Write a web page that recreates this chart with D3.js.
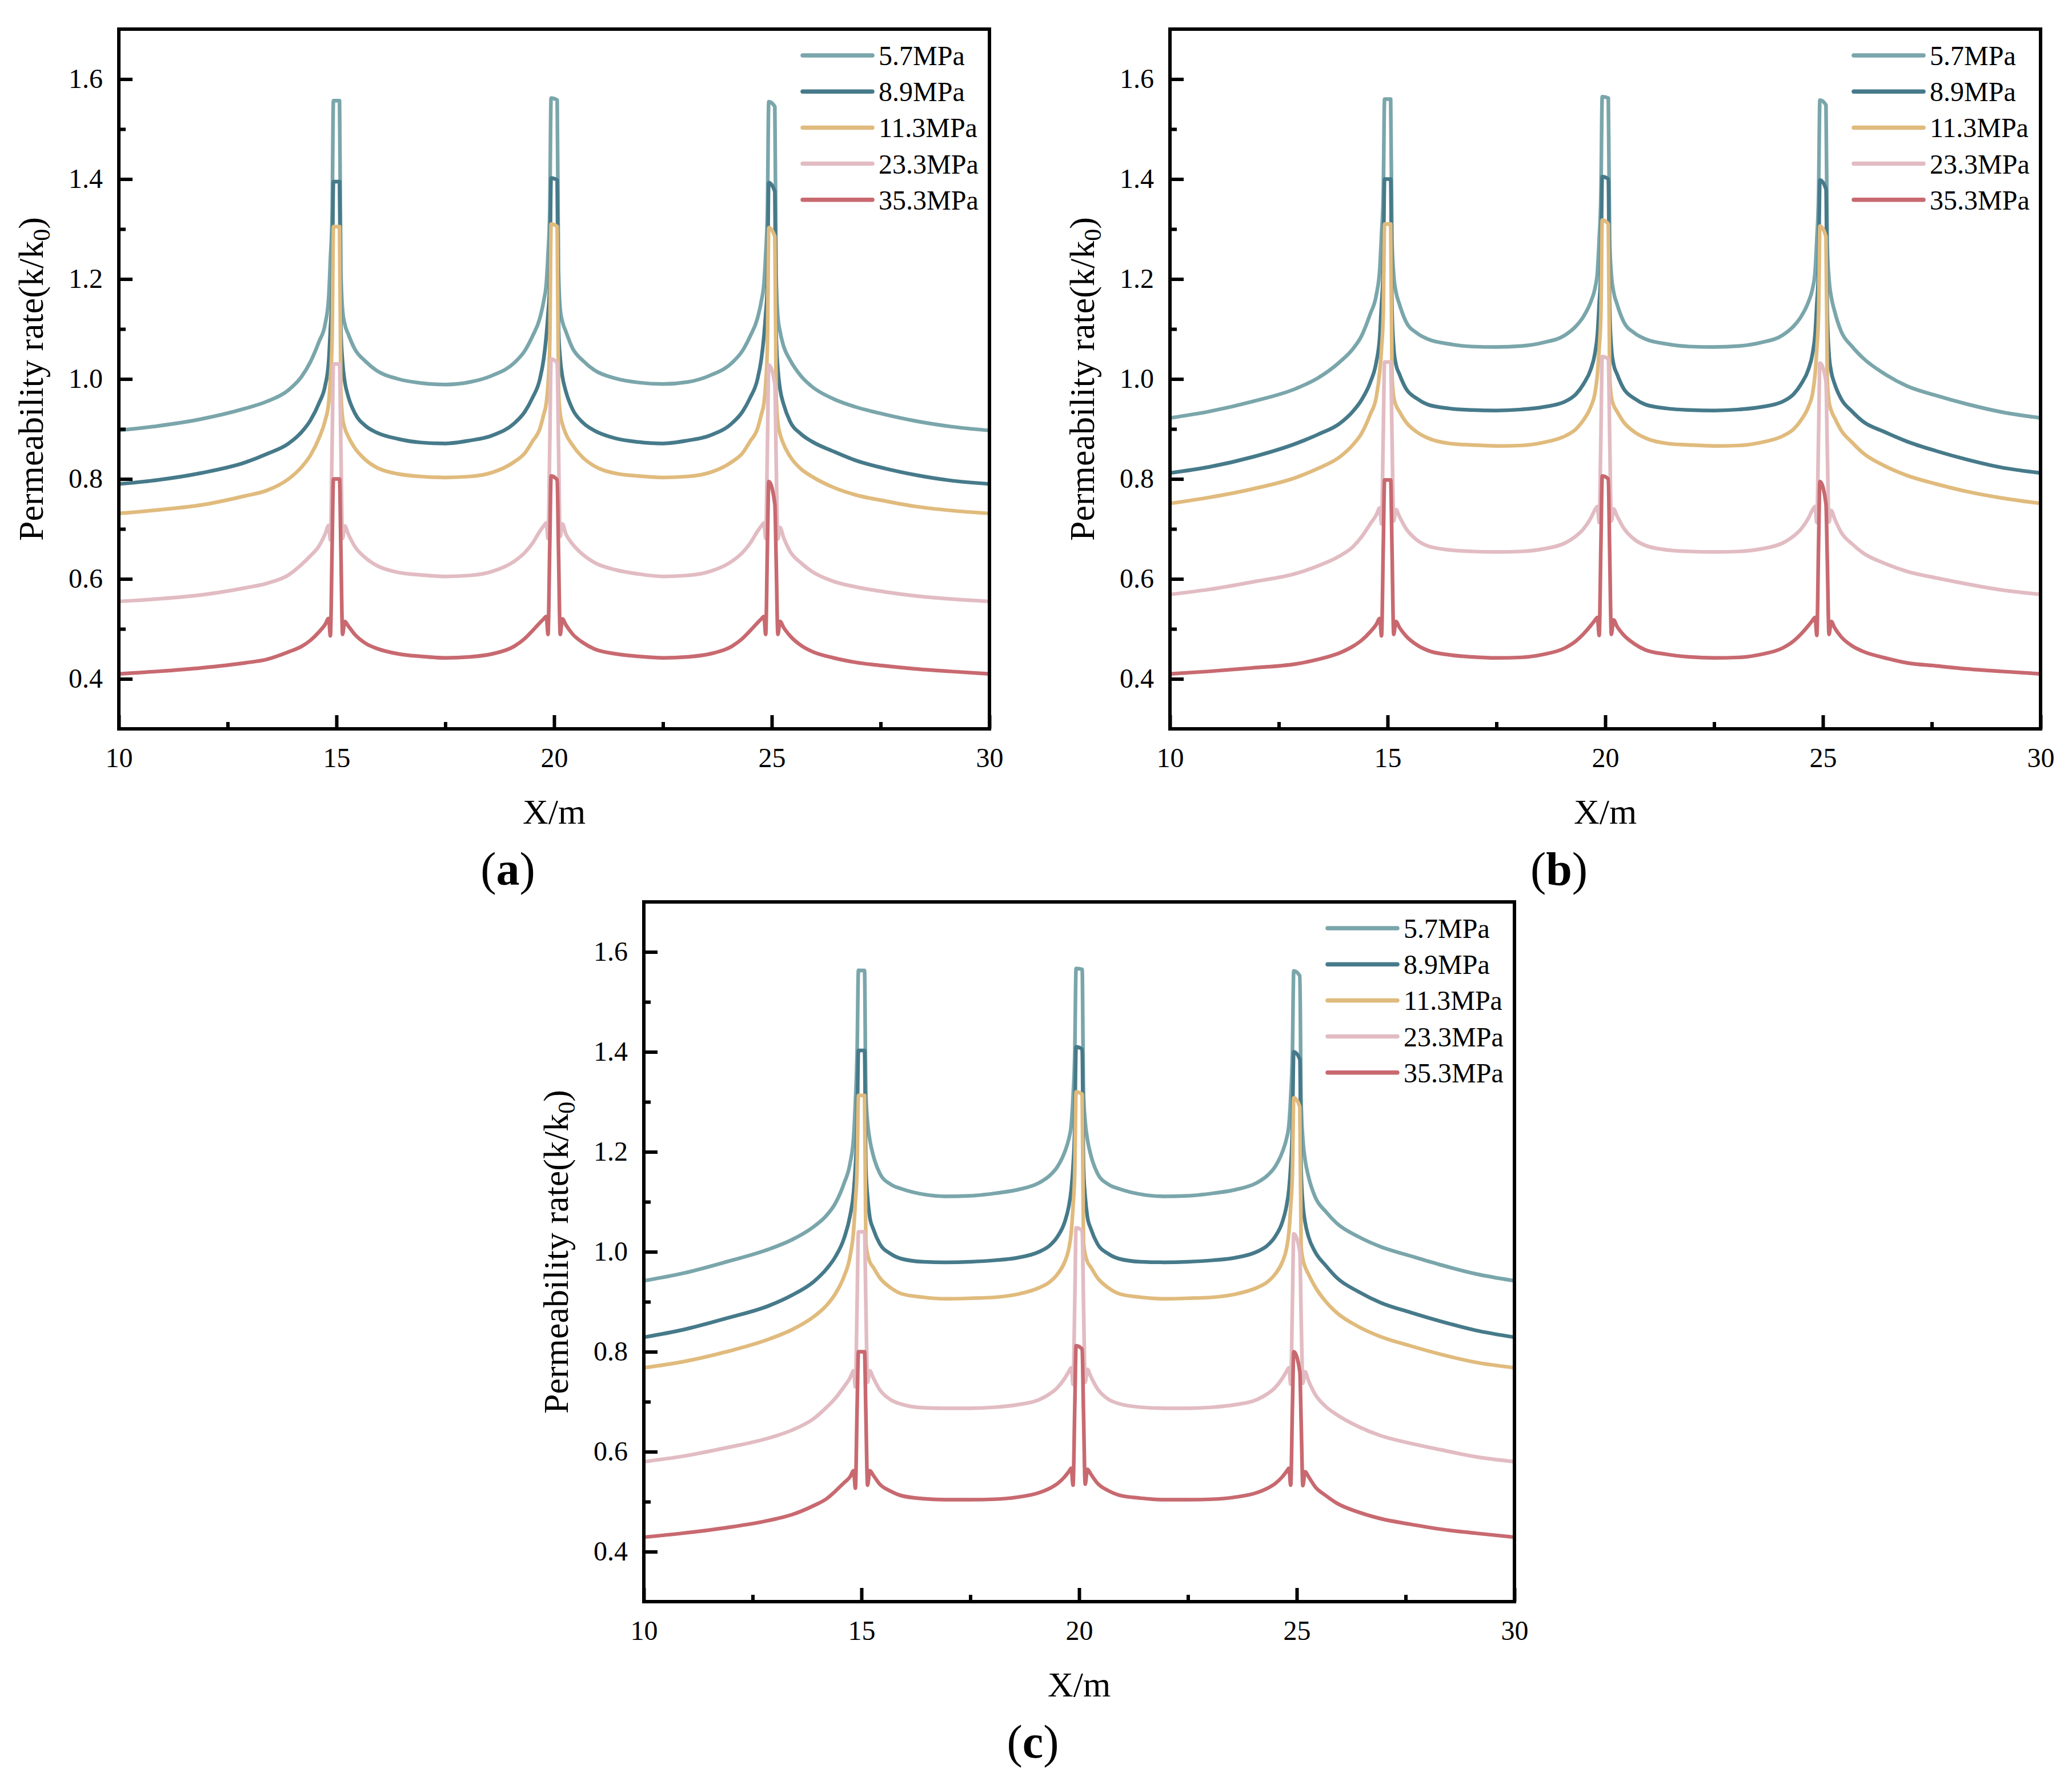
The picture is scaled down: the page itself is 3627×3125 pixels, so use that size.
<!DOCTYPE html>
<html>
<head>
<meta charset="utf-8">
<script src="https://cdn.jsdelivr.net/npm/d3@7"></script>
<style>
  html, body { margin: 0; padding: 0; background: #fff; }
  svg { display: block; }
</style>
</head>
<body>
<svg id="chart" width="3627" height="3125"></svg>
<script>
// x positions (m) shared by every curve, denser round the fractures at 15, 20 and 25 m
const xs = [10,10.9,11.9,12.9,13.4,13.9,14.2,14.4,14.6,14.74,14.82,14.86,14.9,14.93,
  15.07,15.1,15.14,15.19,15.27,15.42,15.67,15.92,16.42,16.93,17.5,
  18.07,18.58,19.08,19.33,19.5,19.67,19.76,19.82,19.86,19.9,19.93,
  20.07,20.1,20.14,20.19,20.27,20.42,20.67,20.92,21.42,21.93,22.5,
  23.07,23.58,24.08,24.33,24.5,24.67,24.76,24.82,24.86,24.9,24.93,
  25.07,25.1,25.14,25.19,25.27,25.42,25.67,25.92,26.42,26.93,27.6,28.3,29.1,30];

const seriesNames = ["5.7MPa", "8.9MPa", "11.3MPa", "23.3MPa", "35.3MPa"];
const seriesColors = ["#7aa6ab", "#467a8a", "#e0bb7d", "#e2bcc3", "#c86970"];

const xTicks = [10, 15, 20, 25, 30];
const xMinor = [12.5, 17.5, 22.5, 27.5];
const yTicks = [0.4, 0.6, 0.8, 1.0, 1.2, 1.4, 1.6];
const yMinor = [0.5, 0.7, 0.9, 1.1, 1.3, 1.5];

// panel (a)
const a57 = [0.897,0.906,0.920,0.941,0.955,0.978,1.005,1.034,1.075,1.110,1.162,1.24,1.33,1.557,
  1.557,1.22,1.138,1.11,1.09,1.06,1.035,1.017,1.0,0.992,0.989,
  0.994,1.007,1.032,1.057,1.085,1.121,1.156,1.191,1.25,1.34,1.562,
  1.558,1.22,1.14,1.115,1.095,1.062,1.036,1.018,1.001,0.993,0.99,
  0.994,1.007,1.032,1.057,1.085,1.121,1.156,1.191,1.25,1.34,1.555,
  1.545,1.21,1.125,1.095,1.066,1.038,1.006,0.985,0.96,0.944,0.929,0.916,0.905,0.897];
const a89 = [0.79,0.798,0.812,0.833,0.850,0.871,0.894,0.917,0.952,0.987,1.034,1.10,1.18,1.395,
  1.395,1.10,1.034,0.995,0.965,0.932,0.906,0.893,0.88,0.873,0.871,
  0.877,0.887,0.911,0.935,0.962,0.999,1.04,1.086,1.13,1.19,1.402,
  1.398,1.10,1.04,1.005,0.975,0.94,0.912,0.897,0.881,0.874,0.871,
  0.877,0.887,0.911,0.935,0.962,0.999,1.04,1.086,1.13,1.19,1.393,
  1.375,1.09,1.02,0.98,0.95,0.915,0.89,0.875,0.855,0.837,0.821,0.808,0.797,0.79];
const a113 = [0.731,0.738,0.748,0.766,0.777,0.80,0.824,0.847,0.882,0.917,0.952,1.0,1.08,1.305,
  1.305,0.98,0.922,0.902,0.885,0.862,0.838,0.823,0.81,0.805,0.803,
  0.805,0.813,0.834,0.852,0.875,0.90,0.929,0.952,0.99,1.07,1.31,
  1.305,0.98,0.93,0.91,0.89,0.868,0.842,0.826,0.811,0.806,0.803,
  0.805,0.813,0.834,0.852,0.875,0.90,0.929,0.952,0.99,1.07,1.303,
  1.285,0.97,0.912,0.89,0.87,0.845,0.82,0.805,0.783,0.768,0.756,0.745,0.737,0.731];
const a233 = [0.555,0.560,0.568,0.582,0.591,0.608,0.629,0.646,0.666,0.690,0.707,0.678,0.87,1.03,
  1.03,0.87,0.681,0.706,0.69,0.665,0.642,0.627,0.613,0.608,0.605,
  0.607,0.615,0.635,0.653,0.671,0.695,0.706,0.712,0.681,0.87,1.04,
  1.032,0.87,0.685,0.71,0.69,0.67,0.648,0.633,0.618,0.61,0.605,
  0.607,0.615,0.635,0.653,0.671,0.695,0.706,0.712,0.681,0.87,1.028,
  0.99,0.84,0.68,0.703,0.683,0.655,0.632,0.615,0.595,0.584,0.574,0.566,0.56,0.555];
const a353 = [0.41,0.415,0.422,0.432,0.439,0.454,0.465,0.477,0.494,0.509,0.521,0.486,0.665,0.80,
  0.80,0.665,0.489,0.515,0.506,0.489,0.471,0.461,0.45,0.445,0.442,
  0.444,0.45,0.465,0.481,0.496,0.512,0.52,0.525,0.489,0.67,0.806,
  0.798,0.66,0.489,0.52,0.508,0.49,0.472,0.46,0.45,0.445,0.442,
  0.444,0.45,0.465,0.481,0.496,0.512,0.52,0.525,0.489,0.67,0.795,
  0.75,0.64,0.489,0.515,0.503,0.486,0.467,0.455,0.442,0.433,0.426,0.42,0.415,0.41];

// panel (b)
const b57 = [0.922,0.935,0.955,0.981,1.002,1.034,1.06,1.086,1.13,1.168,1.22,1.29,1.37,1.56,
  1.56,1.28,1.209,1.175,1.15,1.115,1.092,1.08,1.07,1.065,1.064,
  1.066,1.073,1.088,1.106,1.125,1.155,1.18,1.215,1.28,1.37,1.565,
  1.562,1.28,1.209,1.175,1.15,1.115,1.092,1.08,1.07,1.065,1.064,
  1.066,1.073,1.088,1.106,1.125,1.155,1.18,1.215,1.28,1.37,1.558,
  1.548,1.27,1.2,1.165,1.135,1.095,1.065,1.042,1.01,0.986,0.967,0.95,0.934,0.922];
const b89 = [0.812,0.824,0.844,0.871,0.889,0.911,0.935,0.958,0.993,1.034,1.086,1.15,1.22,1.40,
  1.40,1.14,1.063,1.03,1.01,0.981,0.961,0.949,0.941,0.938,0.937,
  0.939,0.944,0.955,0.97,0.99,1.02,1.05,1.09,1.15,1.22,1.405,
  1.40,1.14,1.063,1.03,1.01,0.981,0.961,0.949,0.941,0.938,0.937,
  0.939,0.944,0.955,0.97,0.99,1.02,1.05,1.09,1.15,1.22,1.398,
  1.38,1.13,1.05,1.015,0.99,0.96,0.935,0.915,0.894,0.875,0.856,0.839,0.823,0.812];
const b113 = [0.751,0.763,0.78,0.803,0.821,0.844,0.868,0.891,0.929,0.964,1.016,1.06,1.13,1.31,
  1.31,1.01,0.964,0.948,0.935,0.914,0.894,0.882,0.871,0.868,0.866,
  0.867,0.873,0.886,0.9,0.918,0.945,0.97,1.01,1.06,1.13,1.318,
  1.31,1.01,0.964,0.948,0.935,0.914,0.894,0.882,0.871,0.868,0.866,
  0.867,0.873,0.886,0.9,0.918,0.945,0.97,1.01,1.06,1.13,1.306,
  1.285,1.0,0.955,0.937,0.922,0.897,0.873,0.852,0.826,0.807,0.79,0.775,0.762,0.751];
const b233 = [0.569,0.579,0.594,0.611,0.626,0.646,0.664,0.684,0.71,0.728,0.742,0.71,0.89,1.034,
  1.034,0.89,0.716,0.739,0.725,0.701,0.678,0.666,0.658,0.655,0.654,
  0.655,0.66,0.672,0.686,0.7,0.722,0.738,0.745,0.713,0.89,1.045,
  1.04,0.89,0.716,0.74,0.726,0.702,0.679,0.667,0.658,0.655,0.654,
  0.655,0.66,0.672,0.686,0.7,0.722,0.738,0.745,0.713,0.89,1.032,
  0.995,0.86,0.714,0.737,0.72,0.693,0.67,0.652,0.631,0.615,0.602,0.59,0.578,0.569];
const b353 = [0.41,0.415,0.422,0.43,0.439,0.452,0.465,0.477,0.494,0.509,0.521,0.486,0.665,0.798,
  0.798,0.665,0.489,0.515,0.503,0.486,0.468,0.457,0.448,0.444,0.442,
  0.443,0.449,0.462,0.476,0.49,0.507,0.517,0.523,0.487,0.67,0.806,
  0.80,0.66,0.489,0.518,0.505,0.488,0.47,0.458,0.449,0.444,0.442,
  0.443,0.449,0.462,0.476,0.49,0.507,0.517,0.523,0.487,0.67,0.795,
  0.75,0.64,0.489,0.515,0.502,0.484,0.466,0.455,0.442,0.432,0.426,0.42,0.415,0.41];

// panel (c)
const c57 = [0.942,0.957,0.98,1.006,1.024,1.05,1.073,1.097,1.137,1.178,1.23,1.30,1.40,1.563,
  1.563,1.32,1.26,1.225,1.193,1.157,1.135,1.126,1.115,1.111,1.112,
  1.117,1.124,1.138,1.153,1.17,1.2,1.225,1.255,1.31,1.40,1.567,
  1.565,1.32,1.26,1.225,1.193,1.157,1.135,1.126,1.115,1.111,1.112,
  1.117,1.124,1.138,1.153,1.17,1.2,1.225,1.255,1.31,1.40,1.562,
  1.552,1.30,1.225,1.185,1.15,1.11,1.08,1.057,1.03,1.01,0.992,0.974,0.956,0.942];
const c89 = [0.829,0.844,0.867,0.893,0.913,0.94,0.966,0.99,1.027,1.073,1.12,1.17,1.25,1.403,
  1.403,1.17,1.11,1.07,1.046,1.016,0.996,0.986,0.98,0.979,0.98,
  0.983,0.988,1.0,1.013,1.03,1.06,1.09,1.125,1.17,1.25,1.41,
  1.405,1.17,1.11,1.07,1.046,1.016,0.996,0.986,0.98,0.979,0.98,
  0.983,0.988,1.0,1.013,1.03,1.06,1.09,1.125,1.17,1.25,1.40,
  1.385,1.16,1.095,1.06,1.03,1.0,0.972,0.948,0.92,0.898,0.879,0.861,0.843,0.829];
const c113 = [0.768,0.78,0.80,0.826,0.844,0.87,0.893,0.916,0.951,0.992,1.044,1.10,1.17,1.313,
  1.313,1.02,0.995,0.98,0.969,0.948,0.928,0.916,0.909,0.906,0.907,
  0.909,0.915,0.928,0.94,0.955,0.98,1.005,1.04,1.09,1.16,1.32,
  1.315,1.02,0.995,0.98,0.969,0.948,0.928,0.916,0.909,0.906,0.907,
  0.909,0.915,0.928,0.94,0.955,0.98,1.005,1.04,1.09,1.16,1.308,
  1.29,1.01,0.985,0.97,0.955,0.93,0.9,0.878,0.85,0.83,0.812,0.795,0.779,0.768];
const c233 = [0.58,0.591,0.608,0.628,0.643,0.666,0.689,0.707,0.73,0.748,0.762,0.73,0.9,1.04,
  1.04,0.9,0.739,0.762,0.748,0.724,0.704,0.695,0.688,0.687,0.687,
  0.689,0.694,0.704,0.716,0.728,0.747,0.76,0.768,0.735,0.9,1.048,
  1.042,0.9,0.739,0.765,0.75,0.726,0.705,0.696,0.689,0.687,0.687,
  0.689,0.694,0.704,0.716,0.728,0.747,0.76,0.768,0.735,0.9,1.036,
  1.0,0.87,0.737,0.76,0.742,0.715,0.69,0.674,0.65,0.632,0.617,0.604,0.59,0.58];
const c353 = [0.429,0.437,0.448,0.463,0.474,0.492,0.506,0.521,0.538,0.55,0.562,0.527,0.69,0.80,
  0.80,0.68,0.533,0.562,0.553,0.535,0.521,0.512,0.506,0.504,0.504,
  0.505,0.509,0.518,0.527,0.536,0.55,0.56,0.567,0.533,0.69,0.812,
  0.805,0.68,0.535,0.565,0.555,0.537,0.522,0.513,0.507,0.504,0.504,
  0.505,0.509,0.518,0.527,0.536,0.55,0.56,0.567,0.533,0.69,0.80,
  0.76,0.66,0.532,0.56,0.55,0.53,0.512,0.497,0.479,0.466,0.455,0.445,0.437,0.429];

const panels = [
  { label: "a", left: 208, top: 51, series: [a57, a89, a113, a233, a353] },
  { label: "b", left: 2048, top: 51, series: [b57, b89, b113, b233, b353] },
  { label: "c", left: 1127, top: 1579, series: [c57, c89, c113, c233, c353] },
];

const W = 1524, H = 1225;
const FONT = "'Liberation Serif', 'Times New Roman', serif";
const svg = d3.select("#chart");
svg.append("rect").attr("width", 3627).attr("height", 3125).attr("fill", "#fff");

panels.forEach((p) => {
  const g = svg.append("g").attr("transform", `translate(${p.left},${p.top})`);

  const x = d3.scaleLinear().domain([10, 30]).range([0, W]);
  const y = d3.scaleLinear().domain([0.3, 1.7]).range([H, 0]);

  // curves
  const line = d3.line()
    .x((d) => x(d[0]))
    .y((d) => y(d[1]))
    .curve(d3.curveMonotoneX);

  p.series.forEach((vals, i) => {
    g.append("path")
      .datum(xs.map((v, k) => [v, vals[k]]))
      .attr("fill", "none")
      .attr("stroke", seriesColors[i])
      .attr("stroke-width", 6.5)
      .attr("stroke-linejoin", "round")
      .attr("d", line);
  });

  // axes, ticks pointing inward
  const xAxis = g.append("g").attr("transform", `translate(0,${H})`)
    .call(d3.axisBottom(x).tickValues(xTicks).tickSize(-24).tickPadding(33).tickFormat(d3.format("d")));
  const xAxisMinor = g.append("g").attr("transform", `translate(0,${H})`)
    .call(d3.axisBottom(x).tickValues(xMinor).tickSize(-12).tickFormat(""));
  const yAxis = g.append("g")
    .call(d3.axisLeft(y).tickValues(yTicks).tickSize(-24).tickPadding(28).tickFormat(d3.format(".1f")));
  const yAxisMinor = g.append("g")
    .call(d3.axisLeft(y).tickValues(yMinor).tickSize(-12).tickFormat(""));

  [xAxis, xAxisMinor, yAxis, yAxisMinor].forEach((a) => {
    a.select(".domain").remove();
    a.selectAll(".tick line").attr("stroke", "#000").attr("stroke-width", 6);
    a.selectAll(".tick text")
      .attr("font-family", FONT)
      .attr("font-size", 48)
      .attr("fill", "#000");
  });

  // frame
  g.append("rect")
    .attr("width", W).attr("height", H)
    .attr("fill", "none")
    .attr("stroke", "#000")
    .attr("stroke-width", 6);

  // axis titles
  g.append("text")
    .attr("x", W / 2).attr("y", H + 166)
    .attr("text-anchor", "middle")
    .attr("font-family", FONT).attr("font-size", 62)
    .text("X/m");

  const yt = g.append("text")
    .attr("transform", `translate(-133,${H / 2}) rotate(-90)`)
    .attr("text-anchor", "middle")
    .attr("font-family", FONT).attr("font-size", 62);
  yt.append("tspan").text("Permeability rate(k/k");
  yt.append("tspan").attr("font-size", 42).attr("dy", 12).text("0");
  yt.append("tspan").attr("dy", -12).text(")");

  // legend
  const lg = g.append("g");
  seriesNames.forEach((name, i) => {
    const ly = 46 + i * 63.2;
    lg.append("line")
      .attr("x1", W - 327).attr("x2", W - 205)
      .attr("y1", ly).attr("y2", ly)
      .attr("stroke", seriesColors[i])
      .attr("stroke-width", 7.5)
      .attr("stroke-linecap", "round");
    lg.append("text")
      .attr("x", W - 194).attr("y", ly + 17)
      .attr("font-family", FONT).attr("font-size", 48)
      .text(name);
  });

  // panel label
  const pl = g.append("text")
    .attr("x", 681).attr("y", H + 273)
    .attr("text-anchor", "middle")
    .attr("font-family", FONT).attr("font-size", 82);
  pl.append("tspan").text("(");
  pl.append("tspan").attr("font-weight", "bold").text(p.label);
  pl.append("tspan").text(")");
});
</script>
</body>
</html>
